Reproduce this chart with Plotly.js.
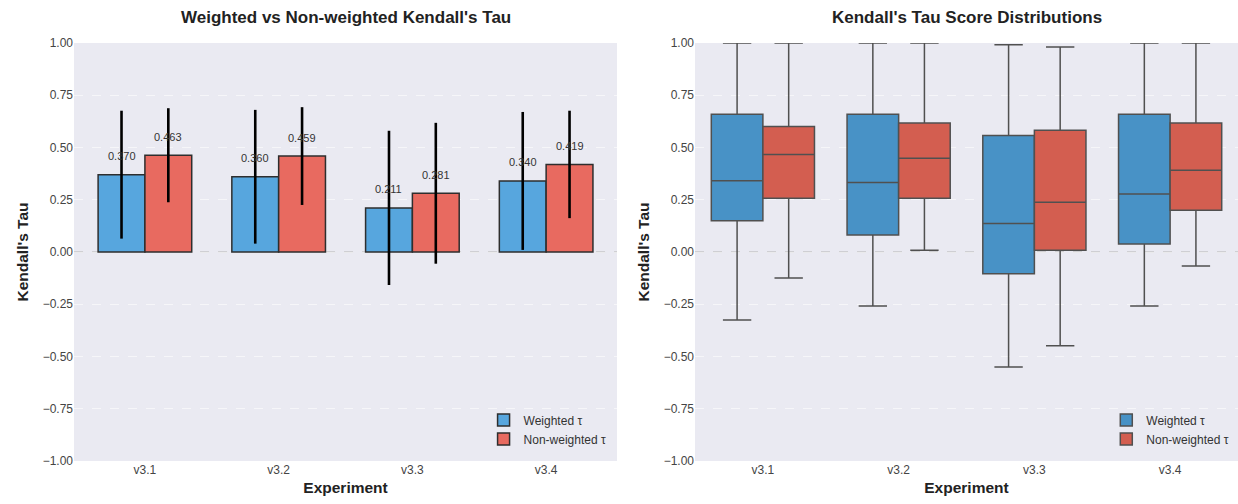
<!DOCTYPE html>
<html>
<head>
<meta charset="utf-8">
<script src="https://cdn.plot.ly/plotly-3.0.1.min.js"></script>
<style>html,body{margin:0;padding:0;background:#fff;}#chart{width:1238px;height:504px;}</style>
</head>
<body>
<div id="chart"></div>
<script>
// ---- data ----
const experiments = ["v3.1", "v3.2", "v3.3", "v3.4"];
const weightedMean = [0.370, 0.360, 0.211, 0.340];
const nonWeightedMean = [0.463, 0.459, 0.281, 0.419];
const weightedStd = [0.306, 0.320, 0.369, 0.330];
const nonWeightedStd = [0.225, 0.234, 0.337, 0.257];

const wLow = [-0.325, -0.258, -0.550, -0.258];
const wQ1 = [0.150, 0.081, -0.104, 0.038];
const wMed = [0.341, 0.332, 0.136, 0.278];
const wQ3 = [0.659, 0.659, 0.557, 0.659];
const wHigh = [1.0, 1.0, 0.992, 1.0];

const nLow = [-0.124, 0.008, -0.448, -0.067];
const nQ1 = [0.257, 0.257, 0.008, 0.200];
const nMed = [0.466, 0.448, 0.238, 0.391];
const nQ3 = [0.600, 0.617, 0.582, 0.617];
const nHigh = [1.0, 1.0, 0.981, 1.0];

const yTicks = [-1, -0.75, -0.5, -0.25, 0, 0.25, 0.5, 0.75, 1];

// ---- styling ----
const font = "Liberation Sans, Arial, sans-serif";
const barBlue = "#57a6de", barRed = "#e86a60";
const boxBlue = "#4892c6", boxRed = "#d35e50";

const traces = [
  {
    type: "bar", name: "Weighted τ", x: experiments, y: weightedMean,
    xaxis: "x", yaxis: "y", legend: "legend",
    marker: {color: barBlue, line: {color: "#2e2e2e", width: 1.5}},
    error_y: {type: "data", array: weightedStd, visible: true, color: "#000", thickness: 2.6, width: 0}
  },
  {
    type: "bar", name: "Non-weighted τ", x: experiments, y: nonWeightedMean,
    xaxis: "x", yaxis: "y", legend: "legend",
    marker: {color: barRed, line: {color: "#2e2e2e", width: 1.5}},
    error_y: {type: "data", array: nonWeightedStd, visible: true, color: "#000", thickness: 2.6, width: 0}
  },
  {
    type: "box", name: "Weighted τ", x: experiments,
    q1: wQ1, median: wMed, q3: wQ3, lowerfence: wLow, upperfence: wHigh,
    xaxis: "x2", yaxis: "y2", legend: "legend2",
    fillcolor: boxBlue, line: {color: "#505050", width: 1.5}, whiskerwidth: 0.55,
    boxpoints: false, hoverinfo: "skip"
  },
  {
    type: "box", name: "Non-weighted τ", x: experiments,
    q1: nQ1, median: nMed, q3: nQ3, lowerfence: nLow, upperfence: nHigh,
    xaxis: "x2", yaxis: "y2", legend: "legend2",
    fillcolor: boxRed, line: {color: "#505050", width: 1.5}, whiskerwidth: 0.55,
    boxpoints: false, hoverinfo: "skip"
  }
];

const annotations = [];
weightedMean.forEach((v, i) => annotations.push({
  x: i - 0.175, y: v + 0.05, xref: "x", yref: "y", text: v.toFixed(3), xanchor: "center",
  showarrow: false, yanchor: "bottom", font: {family: font, size: 11, color: "#333"}
}));
nonWeightedMean.forEach((v, i) => annotations.push({
  x: i + 0.175, y: v + 0.05, xref: "x", yref: "y", text: v.toFixed(3), xanchor: "center",
  showarrow: false, yanchor: "bottom", font: {family: font, size: 11, color: "#333"}
}));
annotations.push({text: "<b>Weighted vs Non-weighted Kendall's Tau</b>", xref: "paper", yref: "paper",
  x: 0.2791, xanchor: "center", y: 1, yanchor: "top", yshift: -6, showarrow: false,
  font: {family: font, size: 17, color: "#222"}});
annotations.push({text: "<b>Kendall's Tau Score Distributions</b>", xref: "paper", yref: "paper",
  x: 0.7807, xanchor: "center", y: 1, yanchor: "top", yshift: -6, showarrow: false,
  font: {family: font, size: 17, color: "#222"}});

const yaxisBase = {
  range: [-1, 1], tickvals: yTicks, tickformat: ".2f",
  showgrid: true, gridcolor: "rgba(255,255,255,0.55)", griddash: "dash", gridwidth: 1,
  zeroline: false, showline: false, ticks: "", ticklen: 0,
  tickfont: {family: font, size: 12, color: "#444"},
  title: {text: "<b>Kendall's Tau</b>", font: {family: font, size: 15.5, color: "#222"}, standoff: 10}
};
const xaxisBase = {
  type: "category", showgrid: false, zeroline: false, showline: false, ticks: "",
  tickfont: {family: font, size: 12, color: "#444"},
  title: {text: "<b>Experiment</b>", font: {family: font, size: 15.5, color: "#222"}, standoff: 6}
};

const zeroLine = (xr, yr) => ({type: "line", xref: xr + " domain", yref: yr, x0: 0, x1: 1, y0: 0, y1: 0,
  line: {color: "#b5b5b5", width: 1, dash: "dash"}, layer: "below"});

const layout = {
  width: 1238, height: 504,
  margin: {l: 0, r: 0, t: 0, b: 0},
  paper_bgcolor: "#ffffff", plot_bgcolor: "#eaeaf2",
  font: {family: font, color: "#333"},
  barmode: "group", bargap: 0.3, bargroupgap: 0,
  boxmode: "group", boxgap: 0.24, boxgroupgap: 0,
  xaxis: Object.assign({}, xaxisBase, {domain: [0.0598, 0.4984], range: [-0.53, 3.53], anchor: "y"}),
  yaxis: Object.assign({}, yaxisBase, {domain: [0.0853, 0.9147], anchor: "x"}),
  xaxis2: Object.assign({}, xaxisBase, {domain: [0.5614, 1], range: [-0.5, 3.5], anchor: "y2"}),
  yaxis2: Object.assign({}, yaxisBase, {domain: [0.0853, 0.9147], anchor: "x2"}),
  legend: {x: 0.494, xanchor: "right", y: 0.1, yanchor: "bottom", bgcolor: "rgba(0,0,0,0)",
    font: {family: font, size: 12, color: "#333"}, tracegroupgap: 0},
  legend2: {x: 0.997, xanchor: "right", y: 0.1, yanchor: "bottom", bgcolor: "rgba(0,0,0,0)",
    font: {family: font, size: 12, color: "#333"}, tracegroupgap: 0},
  shapes: [zeroLine("x", "y"), zeroLine("x2", "y2")],
  annotations: annotations,
  showlegend: true
};

Plotly.newPlot("chart", traces, layout, {displayModeBar: false, staticPlot: true});
</script>
</body>
</html>
